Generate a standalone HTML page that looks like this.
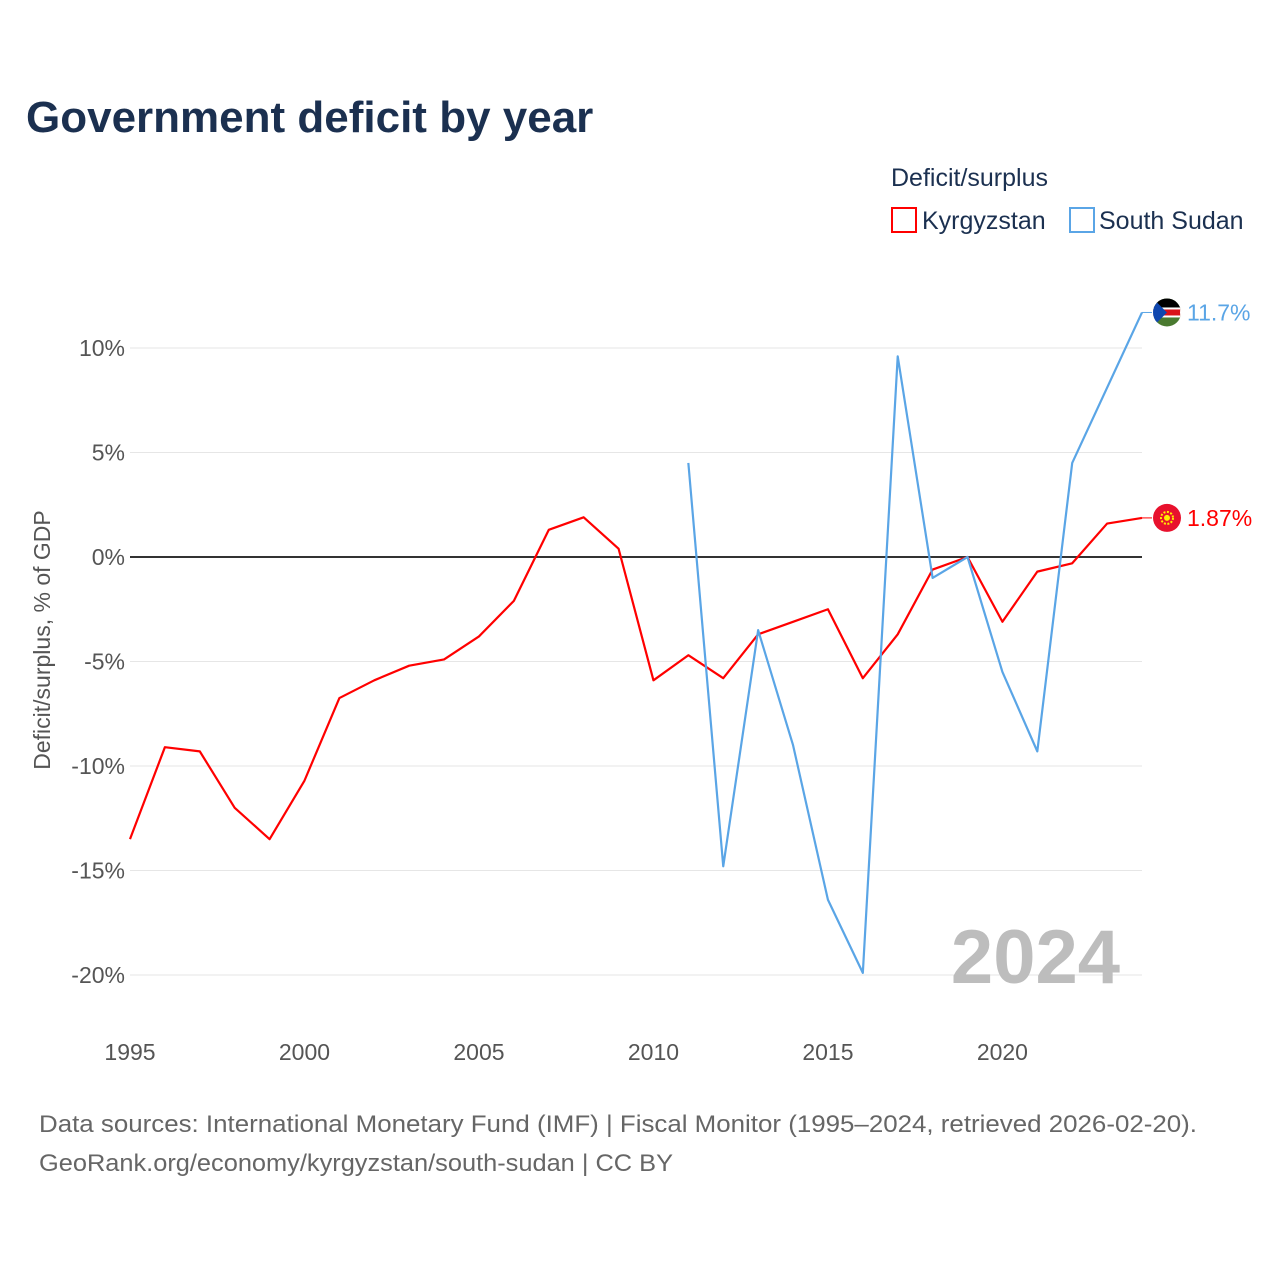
<!DOCTYPE html>
<html><head><meta charset="utf-8"><style>
body{margin:0;background:#fff;font-family:"Liberation Sans",sans-serif}
#wrap{position:relative;width:1280px;height:1280px;overflow:hidden}
</style></head><body>
<div id="wrap">
<svg id="svg" width="1280" height="1280" xmlns="http://www.w3.org/2000/svg">
<defs><clipPath id="fc"><circle cx="1167" cy="312" r="14"/></clipPath></defs>
<text x="26" y="132" font-size="44" font-weight="bold" fill="#1b3050">Government deficit by year</text>
<text x="891" y="186" font-size="25" fill="#1b3050">Deficit/surplus</text>
<g><rect x="892" y="208" width="24" height="24" fill="none" stroke="#f00" stroke-width="2"/><text x="922" y="229" font-size="25" fill="#1b3050">Kyrgyzstan</text></g>
<g><rect x="1070" y="208" width="24" height="24" fill="none" stroke="#5aa5e6" stroke-width="2"/><text x="1099" y="229" font-size="25" fill="#1b3050">South Sudan</text></g>
<g id="grid"></g><g id="series"></g>
<text x="1120" y="983" font-size="76" font-weight="bold" fill="#bdbdbd" text-anchor="end">2024</text>
<text transform="translate(50,640) rotate(-90)" font-size="23" fill="#555" text-anchor="middle">Deficit/surplus, % of GDP</text>
<text x="39" y="1132" font-size="24" fill="#666" textLength="1158" lengthAdjust="spacingAndGlyphs">Data sources: International Monetary Fund (IMF) | Fiscal Monitor (1995–2024, retrieved 2026-02-20).</text>
<text x="39" y="1171" font-size="24" fill="#666" textLength="634" lengthAdjust="spacingAndGlyphs">GeoRank.org/economy/kyrgyzstan/south-sudan | CC BY</text>
</svg></div>
<script>
const years=[1995,1996,1997,1998,1999,2000,2001,2002,2003,2004,2005,2006,2007,2008,2009,2010,2011,2012,2013,2014,2015,2016,2017,2018,2019,2020,2021,2022,2023,2024];
const kyrgyzstan=[-13.5,-9.1,-9.3,-12.0,-13.5,-10.7,-6.75,-5.9,-5.2,-4.9,-3.8,-2.1,1.3,1.9,0.4,-5.9,-4.7,-5.8,-3.7,-3.1,-2.5,-5.8,-3.7,-0.6,0,-3.1,-0.7,-0.3,1.6,1.87];
const ssYears=[2011,2012,2013,2014,2015,2016,2017,2018,2019,2020,2021,2022,2023,2024];
const southSudan=[4.5,-14.8,-3.5,-9.0,-16.4,-19.9,9.6,-1.0,0,-5.5,-9.3,4.5,8.1,11.7];
const yTicks=[10,5,0,-5,-10,-15,-20];
const xTicks=[1995,2000,2005,2010,2015,2020];
const NS="http://www.w3.org/2000/svg";
const x=v=>130+(v-1995)*(1142-130)/29;
const y=v=>557-v*20.9;
function mk(tag,attrs,parent){const e=document.createElementNS(NS,tag);for(const k in attrs)e.setAttribute(k,attrs[k]);parent.appendChild(e);return e;}
const grid=document.getElementById('grid'),ser=document.getElementById('series');
yTicks.forEach(t=>{
 const l=mk('line',{x1:130,x2:1142,y1:y(t),y2:y(t),stroke:t===0?'#333':'#e6e6e6','stroke-width':t===0?2:1},grid);
 
 
 const tx=mk('text',{x:125,y:y(t)+8,'font-size':23,fill:'#555','text-anchor':'end'},grid);tx.textContent=t+'%';
 
 
});
xTicks.forEach(t=>{
 const tx=mk('text',{x:x(t),y:1060,'font-size':23,fill:'#555','text-anchor':'middle'},grid);tx.textContent=t;
 
 
});
function line(xs,vs,color,name){
 const p=mk('polyline',{points:xs.map((yr,i)=>x(yr)+','+y(vs[i])).join(' '),fill:'none',stroke:color,'stroke-width':2.2,'stroke-linejoin':'round'},ser);
 
 
}
line(years,kyrgyzstan,'#f00','kyrgyzstan-line');
line(ssYears,southSudan,'#5aa5e6','south-sudan-line');
function endLabel(v,color,name,flag){
 const cy=y(v);
 mk('line',{x1:1142,x2:1152,y1:cy,y2:cy,stroke:color,'stroke-width':1},ser);
 const g=mk('g',{},ser);
 
 
 if(flag==='kg'){mk('circle',{cx:1167,cy:cy,r:14,fill:'#e8112d'},g);mk('circle',{cx:1167,cy:cy,r:6,fill:'none',stroke:'#ffef00','stroke-width':2,'stroke-dasharray':'2 1.5'},g);mk('circle',{cx:1167,cy:cy,r:3,fill:'#ffef00'},g);}
 else{document.querySelector('#fc circle').setAttribute('cy',cy);const c=mk('g',{'clip-path':'url(#fc)'},g);mk('rect',{x:1153,y:cy-14,width:28,height:28,fill:'#4a7a30'},c);mk('rect',{x:1153,y:cy-14,width:28,height:9,fill:'#000'},c);mk('rect',{x:1153,y:cy-4,width:28,height:8,fill:'#da121a',stroke:'#fff','stroke-width':2},c);mk('polygon',{points:`1153,${cy-14} 1167,${cy} 1153,${cy+14}`,fill:'#0f47af'},c);}
 const t=mk('text',{x:1187,y:cy+8,'font-size':23,fill:color},ser);t.textContent=(name==='kyrgyzstan'?v.toFixed(2):v.toFixed(1))+'%';
 
 
}
endLabel(southSudan[southSudan.length-1],'#5aa5e6','south-sudan','ss');
endLabel(kyrgyzstan[kyrgyzstan.length-1],'#f00','kyrgyzstan','kg');
</script>
</body></html>
